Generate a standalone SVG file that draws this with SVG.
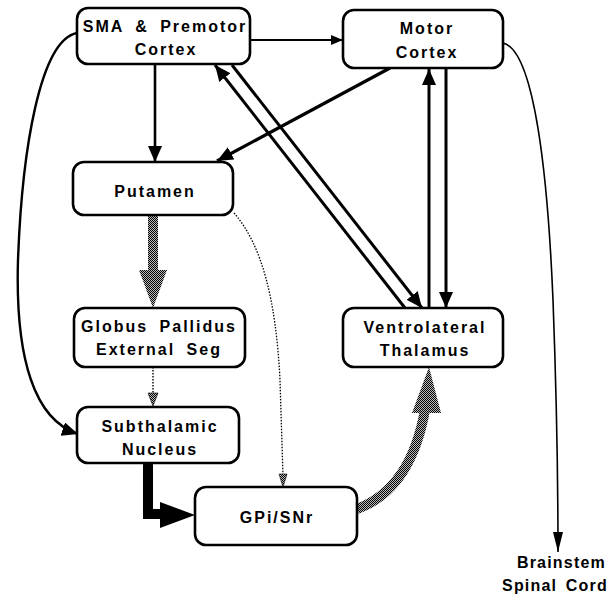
<svg xmlns="http://www.w3.org/2000/svg" width="613" height="598" viewBox="0 0 613 598">
<style>
.box{fill:#fff;stroke:#000;stroke-width:2.6}
.t{font-family:"Liberation Sans",Arial,sans-serif;font-weight:bold;font-size:16px;letter-spacing:2px;word-spacing:5px;text-anchor:middle;fill:#000}
.bs{letter-spacing:1.2px;word-spacing:3px;text-anchor:end}
.ln{fill:none;stroke:#000}
</style>
<defs>
<pattern id="chk" width="2" height="2" patternUnits="userSpaceOnUse">
<rect width="2" height="2" fill="#bbb"/>
<rect width="1" height="1" fill="#000"/>
<rect x="1" y="1" width="1" height="1" fill="#000"/>
</pattern>
<marker id="ah" markerUnits="userSpaceOnUse" markerWidth="16" markerHeight="14" refX="16" refY="7" orient="auto" viewBox="0 0 16 14">
<path d="M0,0 L16,7 L0,14 z" fill="#000"/>
</marker>
<marker id="ahs" markerUnits="userSpaceOnUse" markerWidth="12" markerHeight="10" refX="12" refY="5" orient="auto" viewBox="0 0 12 10">
<path d="M0,0 L12,5 L0,10 z" fill="#000"/>
</marker>
<marker id="ahn" markerUnits="userSpaceOnUse" markerWidth="20" markerHeight="10" refX="20" refY="5" orient="auto" viewBox="0 0 20 10">
<path d="M0,0 L20,5 L0,10 z" fill="#000"/>
</marker>
</defs>

<g id="connectors">
<!-- SMA -> Motor -->
<path class="ln" stroke-width="1.8" d="M250,40 L343,40" marker-end="url(#ahs)"/>
<!-- SMA -> Putamen -->
<path class="ln" stroke-width="2.6" d="M155,64 L155,162" marker-end="url(#ah)"/>
<!-- Motor -> Putamen -->
<path class="ln" stroke-width="3.2" d="M390,68 L217,161" marker-end="url(#ah)"/>
<!-- VL -> SMA -->
<path class="ln" stroke-width="3" d="M405,308 L215,65" marker-end="url(#ah)"/>
<!-- SMA -> VL -->
<path class="ln" stroke-width="3" d="M232,65 L422,308" marker-end="url(#ah)"/>
<!-- VL -> Motor -->
<path class="ln" stroke-width="3" d="M429,308 L429,69" marker-end="url(#ah)"/>
<!-- Motor -> VL -->
<path class="ln" stroke-width="3" d="M446,68 L446,308" marker-end="url(#ah)"/>
<!-- Motor -> Brainstem -->
<path class="ln" stroke-width="1.6" d="M503,43 C535,50 548,180 553,300 C556,380 558,470 558,552" marker-end="url(#ahn)"/>
<!-- SMA -> Subthalamic -->
<path class="ln" stroke-width="2.4" d="M77,33 C40,40 22,150 18,260 C15,360 35,420 78,434" marker-end="url(#ah)"/>
<!-- Putamen -> GPe (hatched) -->
<rect x="148" y="215" width="10" height="57" fill="url(#chk)"/>
<polygon points="139,270 167,270 153,308" fill="url(#chk)"/>
<!-- GPe -> STN (dotted hatched) -->
<path class="ln" stroke-width="1.4" stroke-dasharray="1.5,1.5" d="M153,367 L153,395"/>
<polygon points="148,393 158,393 153,406" fill="url(#chk)" stroke="#000" stroke-width="0.6"/>
<!-- Putamen -> GPi (dotted) -->
<path class="ln" stroke-width="1.3" stroke-dasharray="1.5,1.5" d="M234,213 C262,245 276,300 280,380 L283,476"/>
<polygon points="279,474 287,474 283,487" fill="url(#chk)" stroke="#000" stroke-width="0.6"/>
<!-- STN -> GPi (thick black) -->
<path d="M148,463 L148,514 L165,514" fill="none" stroke="#000" stroke-width="10" stroke-linejoin="miter"/>
<polygon points="160,502 195,515 160,528" fill="#000"/>
<!-- GPi -> VL (hatched curve) -->
<path d="M357,509 C395,495 416,460 425,410" fill="none" stroke="url(#chk)" stroke-width="10"/>
<polygon points="412,413 441,413 429,367" fill="url(#chk)"/>
</g>

<g id="sma">
<rect class="box" x="77" y="8" width="173" height="56" rx="11"/>
<text class="t" x="165" y="32">SMA &amp; Premotor</text>
<text class="t" x="166" y="55">Cortex</text>
</g>
<g id="motor">
<rect class="box" x="343" y="10" width="160" height="58" rx="11"/>
<text class="t" x="427" y="34">Motor</text>
<text class="t" x="427" y="58">Cortex</text>
</g>
<g id="putamen">
<rect class="box" x="73" y="162" width="160" height="53" rx="11"/>
<text class="t" x="155" y="197">Putamen</text>
</g>
<g id="gpe">
<rect class="box" x="74" y="308" width="171" height="59" rx="11"/>
<text class="t" x="159" y="332">Globus Pallidus</text>
<text class="t" x="159" y="355">External Seg</text>
</g>
<g id="stn">
<rect class="box" x="77" y="407" width="162" height="56" rx="11"/>
<text class="t" x="160" y="432">Subthalamic</text>
<text class="t" x="160" y="455">Nucleus</text>
</g>
<g id="gpi">
<rect class="box" x="195" y="487" width="162" height="58" rx="11"/>
<text class="t" x="277" y="523">GPi/SNr</text>
</g>
<g id="vl">
<rect class="box" x="343" y="308" width="160" height="59" rx="11"/>
<text class="t" x="425" y="333">Ventrolateral</text>
<text class="t" x="425" y="356">Thalamus</text>
</g>
<g id="brainstem">
<text class="t bs" x="606" y="568">Brainstem</text>
<text class="t bs" x="608" y="591">Spinal Cord</text>
</g>
</svg>
